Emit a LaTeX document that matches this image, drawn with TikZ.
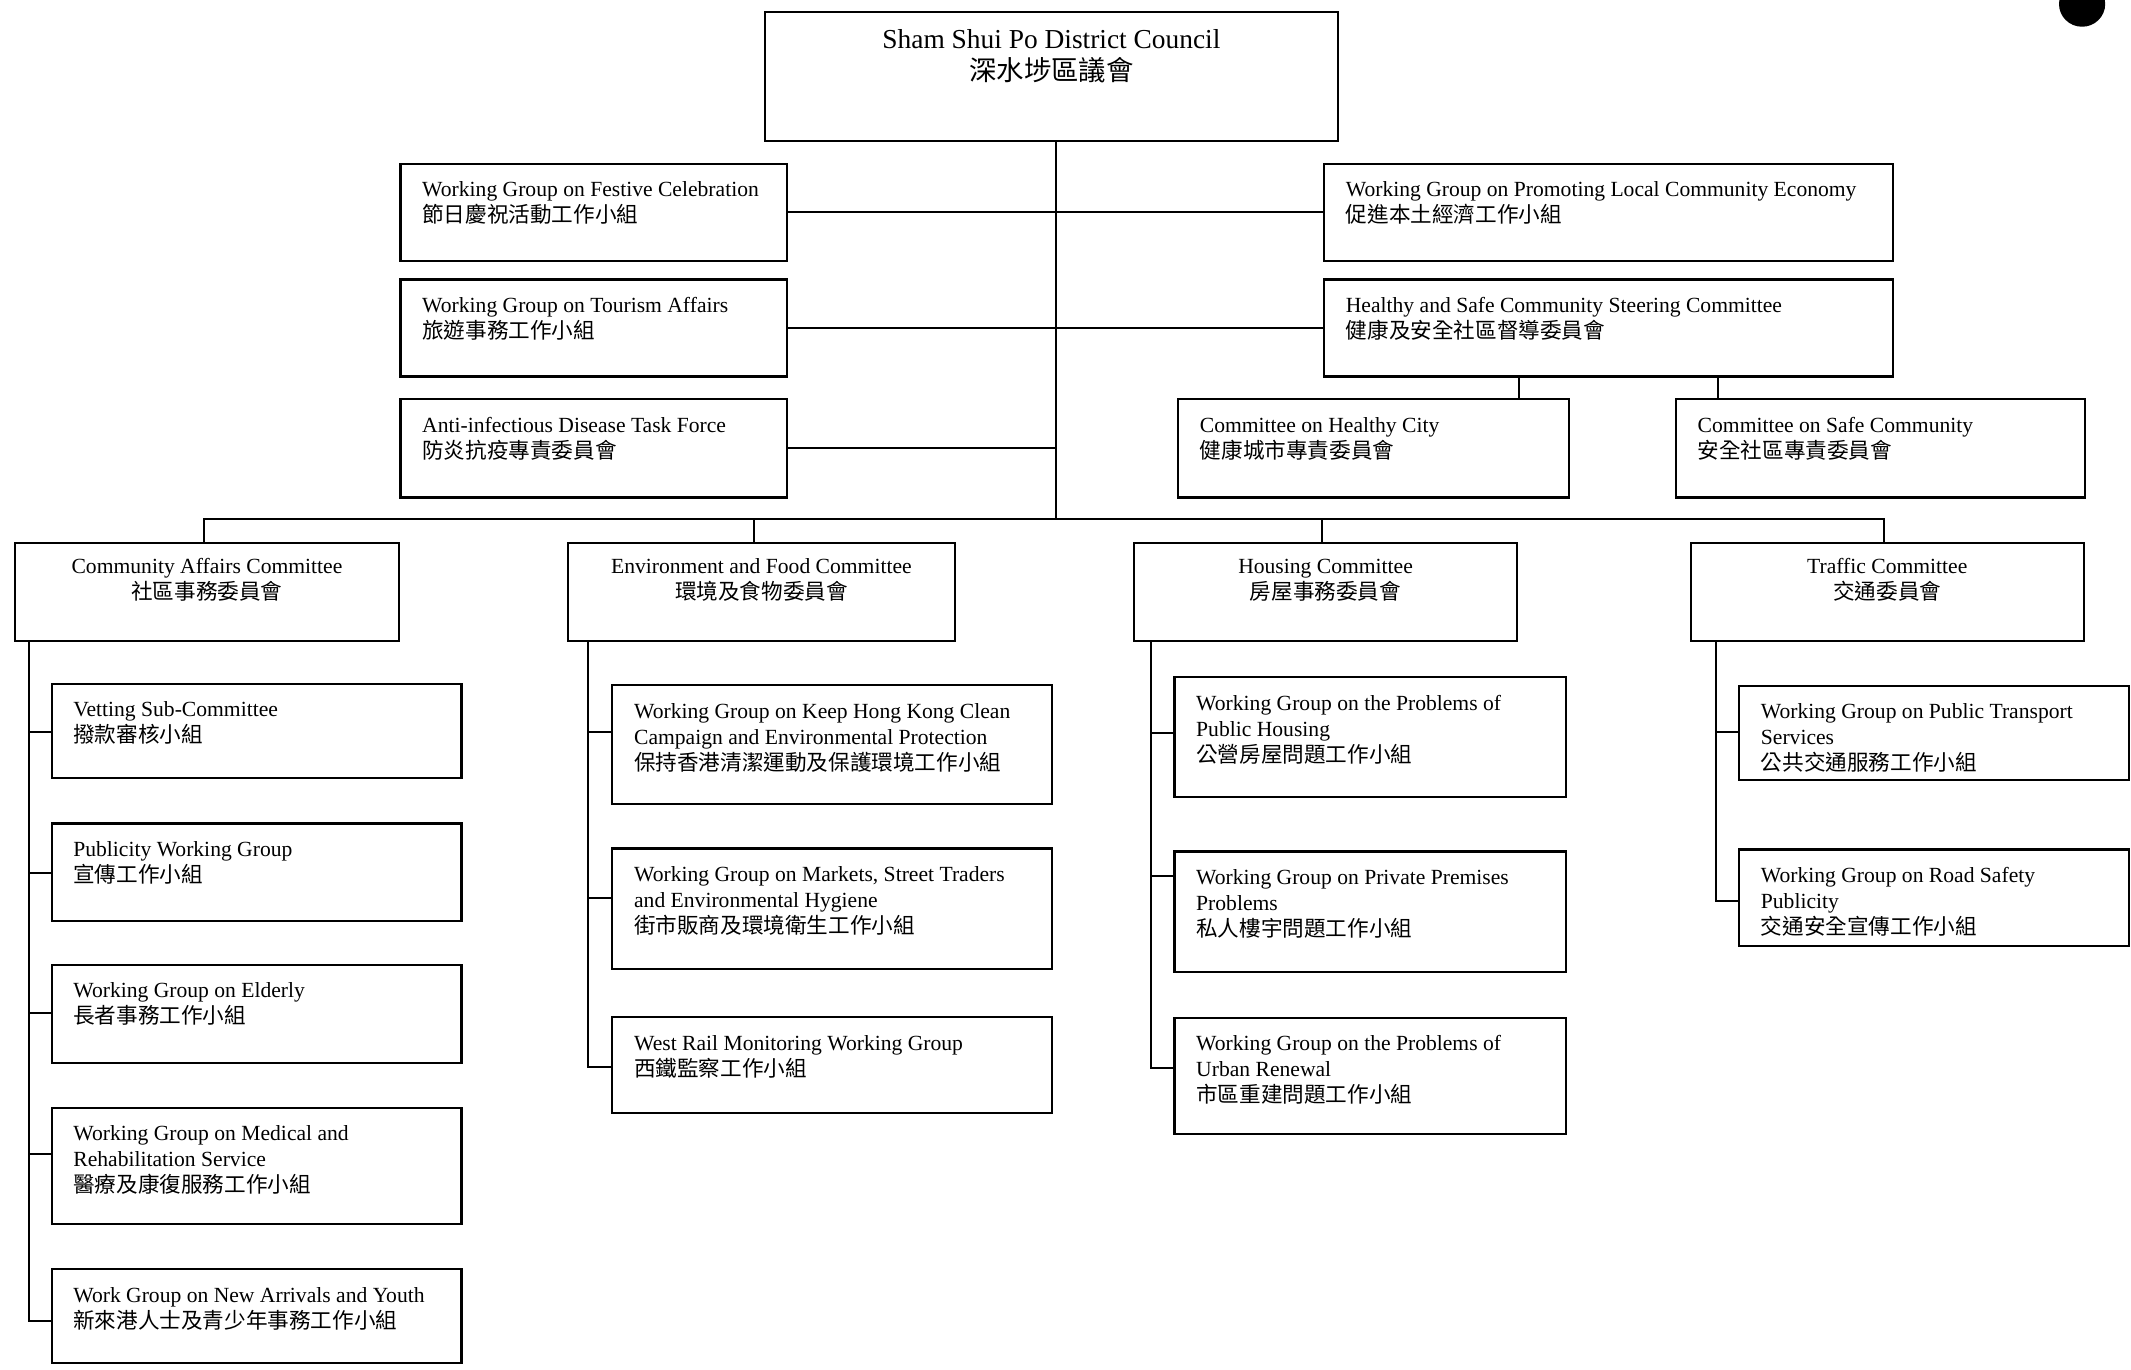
\documentclass[tikz,border=0pt]{standalone}
\usepackage{fontspec}
\setmainfont{Liberation Serif}
\newfontfamily\cjkfont{Noto Sans CJK TC}
\usetikzlibrary{fit}
\newcommand\cjktext[1]{{\cjkfont #1}}
\tikzset{
  box/.style={draw=black, line width=1.1pt, inner sep=0pt, rectangle},
  conn/.style={draw=black, line width=1pt},
  txt/.style={inner sep=0pt, anchor=base west, font=\fontsize{10.8}{13}\selectfont},
  ctxt/.style={inner sep=0pt, anchor=base, font=\fontsize{10.8}{13}\selectfont},
  ttxt/.style={inner sep=0pt, anchor=base, font=\fontsize{13.7}{15.6}\selectfont},
}
\newcommand\leftbox[6]{%
  \node[box, fit={(#2,#3)(#4,#5)}] (#1) {};
  \node[txt] (#1-t) at ([shift={(16.5,25.5)}]#1.north west) {\begin{tabular}[t]{@{}l@{}}#6\end{tabular}};}
\newcommand\midbox[6]{%
  \node[box, fit={(#2,#3)(#4,#5)}] (#1) {};
  \node[ctxt] (#1-t) at ([shift={(0,23.7)}]#1.north) {\begin{tabular}[t]{@{}c@{}}#6\end{tabular}};}
\begin{document}
\begin{tikzpicture}[x=0.6795pt, y=-0.6686pt]
\useasboundingbox (0,0) rectangle (1568,1024.4);
% ---- top
\node[box, fit={(563,9)(984.3,105.3)}] (top) {};
\node[ttxt] (top-t) at ([shift={(0,28)}]top.north) {\begin{tabular}[t]{@{}c@{}}Sham Shui Po District Council\\\cjktext{深水埗區議會}\end{tabular}};
% ---- second level
\leftbox{fest}{294.7}{122.5}{579.3}{195}{Working Group on Festive Celebration\\\cjktext{節日慶祝活動工作小組}}
\leftbox{tour}{294.7}{209}{579.3}{281.5}{Working Group on Tourism Affairs\\\cjktext{旅遊事務工作小組}}
\leftbox{anti}{294.7}{298.5}{579.3}{372}{Anti-infectious Disease Task Force\\\cjktext{防炎抗疫專責委員會}}
\leftbox{prom}{974.3}{122.5}{1393}{195}{Working Group on Promoting Local Community Economy\\\cjktext{促進本土經濟工作小組}}
\leftbox{hs}{974.3}{209}{1393}{281.5}{Healthy and Safe Community Steering Committee\\\cjktext{健康及安全社區督導委員會}}
\leftbox{hc}{866.9}{298.5}{1154.3}{372}{Committee on Healthy City\\\cjktext{健康城市專責委員會}}
\leftbox{sc}{1233.2}{298.5}{1534}{372}{Committee on Safe Community\\\cjktext{安全社區專責委員會}}
% ---- committees
\midbox{ca}{11}{406}{293.6}{479.5}{Community Affairs Committee\\\cjktext{社區事務委員會}}
\midbox{env}{417.7}{406}{702.8}{479.5}{Environment and Food Committee\\\cjktext{環境及食物委員會}}
\midbox{hou}{834.4}{406}{1116.3}{479.5}{Housing Committee\\\cjktext{房屋事務委員會}}
\midbox{tra}{1244.2}{406}{1533.1}{479.5}{Traffic Committee\\\cjktext{交通委員會}}
% ---- community affairs column
\leftbox{vet}{38}{511.3}{339.5}{581.9}{Vetting Sub-Committee\\\cjktext{撥款審核小組}}
\leftbox{pub}{38}{615.8}{339.5}{688.6}{Publicity Working Group\\\cjktext{宣傳工作小組}}
\leftbox{eld}{38}{721.5}{339.5}{795.1}{Working Group on Elderly\\\cjktext{長者事務工作小組}}
\leftbox{med}{38}{828.4}{339.5}{915.4}{Working Group on Medical and\\Rehabilitation Service\\\cjktext{醫療及康復服務工作小組}}
\leftbox{nay}{38}{949.1}{339.5}{1019}{Work Group on New Arrivals and Youth\\\cjktext{新來港人士及青少年事務工作小組}}
% ---- environment column
\leftbox{kc}{450.6}{512.5}{774.3}{601.1}{Working Group on Keep Hong Kong Clean\\Campaign and Environmental Protection\\\cjktext{保持香港清潔運動及保護環境工作小組}}
\leftbox{mkt}{450.6}{634.5}{774.3}{724.7}{Working Group on Markets, Street Traders\\and Environmental Hygiene\\\cjktext{街市販商及環境衛生工作小組}}
\leftbox{wr}{450.6}{760.6}{774.3}{832.4}{West Rail Monitoring Working Group\\\cjktext{西鐵監察工作小組}}
% ---- housing column
\leftbox{ph}{864.2}{506.3}{1152}{595.9}{Working Group on the Problems of\\Public Housing\\\cjktext{公營房屋問題工作小組}}
\leftbox{pp}{864.2}{636.8}{1152}{726.7}{Working Group on Private Premises\\Problems\\\cjktext{私人樓宇問題工作小組}}
\leftbox{ur}{864.2}{761.1}{1152}{848.2}{Working Group on the Problems of\\Urban Renewal\\\cjktext{市區重建問題工作小組}}
% ---- traffic column
\leftbox{ptr}{1279.7}{512.7}{1566.5}{583.5}{Working Group on Public Transport\\Services\\\cjktext{公共交通服務工作小組}}
\leftbox{rsp}{1279.7}{635.2}{1566.5}{707.2}{Working Group on Road Safety\\Publicity\\\cjktext{交通安全宣傳工作小組}}
% ---- connectors: trunk and second level
\coordinate (trunk) at (777,388);
\draw[conn] (top.south -| trunk) -- (trunk);
\draw[conn] (fest.east) -- (prom.west |- fest.east);
\draw[conn] (tour.east) -- (hs.west |- tour.east);
\draw[conn] (anti.east) -- (trunk |- anti.east);
\coordinate (hcx) at (1118,0);
\coordinate (scx) at (1264,0);
\draw[conn] (hs.south -| hcx) -- (hc.north -| hcx);
\draw[conn] (hs.south -| scx) -- (sc.north -| scx);
% ---- bus to committees
\coordinate (busL) at (150,388);
\coordinate (busR) at (1386,388);
\coordinate (dEnv) at (555,388);
\coordinate (dHou) at (973,388);
\draw[conn] (ca.north -| busL) -- (busL) -- (busR) -- (tra.north -| busR);
\draw[conn] (dEnv) -- (env.north -| dEnv);
\draw[conn] (dHou) -- (hou.north -| dHou);
% ---- community affairs branches
\coordinate (b-vet) at (21,547.2);
\coordinate (b-pub) at (21,653);
\coordinate (b-eld) at (21,757.8);
\coordinate (b-med) at (21,863);
\coordinate (b-nay) at (21,988);
\draw[conn] (ca.south -| b-vet) -- (b-nay) -- (nay.west |- b-nay);
\draw[conn] (b-vet) -- (vet.west |- b-vet);
\draw[conn] (b-pub) -- (pub.west |- b-pub);
\draw[conn] (b-eld) -- (eld.west |- b-eld);
\draw[conn] (b-med) -- (med.west |- b-med);
% ---- environment branches
\coordinate (b-kc) at (433,547.6);
\coordinate (b-mkt) at (433,671.2);
\coordinate (b-wr) at (433,798.1);
\draw[conn] (env.south -| b-kc) -- (b-wr) -- (wr.west |- b-wr);
\draw[conn] (b-kc) -- (kc.west |- b-kc);
\draw[conn] (b-mkt) -- (mkt.west |- b-mkt);
% ---- housing branches
\coordinate (b-ph) at (847,548.1);
\coordinate (b-pp) at (847,655);
\coordinate (b-ur) at (847,798.7);
\draw[conn] (hou.south -| b-ph) -- (b-ur) -- (ur.west |- b-ur);
\draw[conn] (b-ph) -- (ph.west |- b-ph);
\draw[conn] (b-pp) -- (pp.west |- b-pp);
% ---- traffic branches
\coordinate (b-ptr) at (1262.5,547.6);
\coordinate (b-rsp) at (1262.5,674.1);
\draw[conn] (tra.south -| b-ptr) -- (b-rsp) -- (rsp.west |- b-rsp);
\draw[conn] (b-ptr) -- (ptr.west |- b-ptr);
% ---- punch hole
\fill[black] (1532,3) circle[radius=17];
\end{tikzpicture}
\end{document}
